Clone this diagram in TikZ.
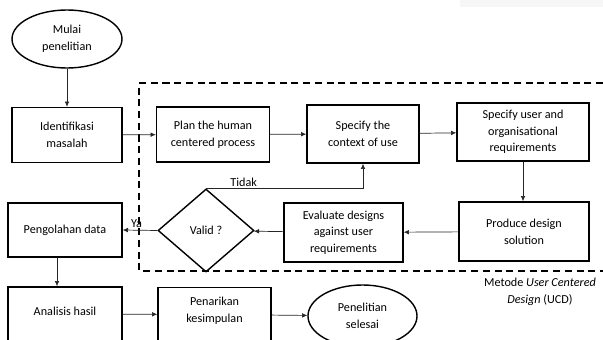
\documentclass[tikz,border=0pt]{standalone}
\usepackage{fontspec}
\setmainfont{Carlito}
\usetikzlibrary{shapes.geometric,arrows.meta}
\tikzset{
	proses/.style={draw, line width=1.2pt, align=center, inner sep=2pt},
	terminal/.style={draw, ellipse, line width=1.2pt, align=center, inner sep=0pt},
	keputusan/.style={draw, diamond, line width=1.2pt, align=center, inner sep=0pt},
	panah/.style={-{Latex[length=4.5pt,width=4pt]}, line width=0.6pt, black!85},
	batas/.style={line width=1.4pt, dash pattern=on 6pt off 4pt}
}
\begin{document}
\begin{tikzpicture}[x=0.03cm, y=-0.03cm, every node/.style={font=\fontsize{10.4}{14.2}\selectfont}]
		\useasboundingbox (0,0) rectangle (603,340);
		\clip (0,0) rectangle (603,340);
		\fill[gray!7] (460,0) rectangle (603,7);
		\draw[batas] (603,83) -- (139,83) -- (139,271) -- (603,271);
		\node[terminal, minimum width=3.3cm, minimum height=1.74cm] (mulai) at (67,39) {Mulai\\penelitian};
		\node[proses, minimum width=3.3cm, minimum height=1.65cm] (identifikasi) at (67,135) {Identifikasi\\masalah};
		\node[proses, minimum width=3.39cm, minimum height=1.65cm] (plan) at (213,134.5) {Plan the human\\centered process};
		\node[proses, minimum width=3.36cm, minimum height=1.74cm] (konteks) at (363,134) {Specify the\\context of use};
		\node[proses, minimum width=3.96cm, minimum height=1.74cm] (kebutuhan) at (523,132) {Specify user and\\organisational\\requirements};
		\node[proses, minimum width=3.9cm, minimum height=1.77cm] (produksi) at (524,231.5) {Produce design\\solution};
		\node[proses, minimum width=3.57cm, minimum height=1.77cm] (evaluasi) at (343.5,232.5) {Evaluate designs\\against user\\requirements};
		\node[keputusan, minimum width=2.88cm, minimum height=2.49cm] (valid) at (206,230.5) {Valid ?};
		\node[proses, minimum width=3.42cm, minimum height=1.62cm] (pengolahan) at (65,230) {Pengolahan data};
		\node[proses, minimum width=3.42cm, minimum height=1.62cm] (analisis) at (65,314) {};
		\node (analisisteks) at (65,311) {Analisis hasil};
		\node[proses, minimum width=3.39cm, minimum height=1.62cm] (penarikan) at (214.5,314.5) {};
		\node[align=center] (penarikanteks) at (214.5,310.5) {Penarikan\\kesimpulan};
		\node[terminal, minimum width=3.27cm, minimum height=1.86cm] (selesai) at (362.5,316) {Penelitian\\selesai};
		\node[align=center] (metode) at (540,291.5) {Metode \textit{User Centered}\\\textit{Design} (UCD)};
		\draw[panah] (mulai) -- (identifikasi);
		\draw[panah] (identifikasi) -- (plan);
		\draw[panah] (plan) -- (konteks);
		\draw[panah] (konteks) -- (kebutuhan);
		\draw[panah] (kebutuhan.south) -- (kebutuhan.south |- produksi.north);
		\draw[panah] (produksi) -- (evaluasi);
		\draw[panah] (evaluasi) -- (valid);
		\draw[panah] (valid.north) -| node[pos=0.12, above, inner sep=1pt, black] (tidak) {Tidak} (konteks.south);
		\draw[panah] (valid.west) -- node[above, pos=0.6, inner sep=2pt, black] (ya) {Ya} (pengolahan.east);
		\draw[panah] ([xshift=-0.24cm]pengolahan.south) -- ([xshift=-0.24cm]analisis.north);
		\draw[panah] (analisis) -- (penarikan);
		\draw[panah] (penarikan) -- (selesai);
	\end{tikzpicture}
\end{document}
